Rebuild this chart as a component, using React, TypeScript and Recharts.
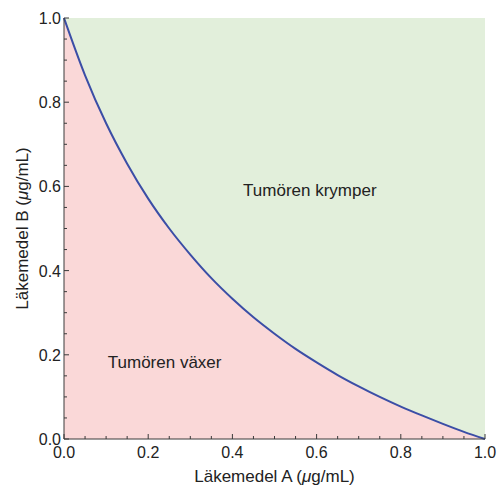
import {
  CartesianGrid,
  ComposedChart,
  Area,
  Line,
  ReferenceDot,
  XAxis,
  YAxis,
} from "recharts";

// drug A concentration (µg/mL) and the isobole value of drug B
const drugA = [0, 0.05, 0.1, 0.15, 0.2, 0.25, 0.3, 0.35, 0.4, 0.45, 0.5, 0.55, 0.6, 0.65, 0.7, 0.75, 0.8, 0.85, 0.9, 0.95, 1];
const drugB = [1, 0.864, 0.75, 0.654, 0.571, 0.5, 0.438, 0.382, 0.333, 0.289, 0.25, 0.214, 0.182, 0.152, 0.125, 0.1, 0.077, 0.056, 0.036, 0.017, 0];
const tickValues = [0, 0.05, 0.1, 0.15, 0.2, 0.25, 0.3, 0.35, 0.4, 0.45, 0.5, 0.55, 0.6, 0.65, 0.7, 0.75, 0.8, 0.85, 0.9, 0.95, 1];
const majorTicks = [0, 0.2, 0.4, 0.6, 0.8, 1];

const data = drugA.map((a, i) => ({ a, b: drugB[i] }));

const FONT = "'Liberation Sans', Arial, sans-serif";
const AXIS = "#3a3a3a";

const isMajor = (v: number) => majorTicks.some((m) => Math.abs(m - v) < 1e-6);

function XTick({ x, y, payload }: any) {
  const major = isMajor(payload.value);
  return (
    <g>
      <line x1={x} x2={x} y1={y} y2={y - (major ? 5 : 3)} stroke={AXIS} strokeWidth={1} />
      {major && (
        <text x={x} y={y + 19} textAnchor="middle" fontSize={16} fontFamily={FONT} fill="#222">
          {payload.value.toFixed(1)}
        </text>
      )}
    </g>
  );
}

function YTick({ x, y, payload }: any) {
  const major = isMajor(payload.value);
  return (
    <g>
      <line x1={x} x2={x + (major ? 5 : 3)} y1={y} y2={y} stroke={AXIS} strokeWidth={1} />
      {major && (
        <text x={x - 3} y={y + 6} textAnchor="end" fontSize={16} fontFamily={FONT} fill="#222">
          {payload.value.toFixed(1)}
        </text>
      )}
    </g>
  );
}

function XTitle({ viewBox }: any) {
  const cx = viewBox.x + viewBox.width / 2;
  return (
    <text x={cx} y={482} textAnchor="middle" fontSize={17} fontFamily={FONT} fill="#222">
      Läkemedel A (<tspan fontStyle="italic">μ</tspan>g/mL)
    </text>
  );
}

function YTitle({ viewBox }: any) {
  const cy = viewBox.y + viewBox.height / 2;
  return (
    <text
      x={28}
      y={cy}
      transform={`rotate(-90 28 ${cy})`}
      textAnchor="middle"
      fontSize={17}
      fontFamily={FONT}
      fill="#222"
    >
      Läkemedel B (<tspan fontStyle="italic">μ</tspan>g/mL)
    </text>
  );
}

export default function App() {
  return (
    <div style={{ position: "absolute", left: 0, top: 0, width: 498, height: 490, background: "#fff" }}>
      <ComposedChart width={498} height={490} data={data} margin={{ top: 18, right: 13, bottom: 0, left: 0 }}>
        <CartesianGrid horizontal={false} vertical={false} fill="#e2efdb" />
        <XAxis
          dataKey="a"
          type="number"
          domain={[0, 1]}
          ticks={tickValues}
          interval={0}
          height={51}
          tickSize={0}
          tickMargin={0}
          tickLine={false}
          tick={<XTick />}
          stroke={AXIS}
          label={{ content: <XTitle /> }}
        />
        <YAxis
          type="number"
          domain={[0, 1]}
          ticks={tickValues}
          interval={0}
          width={64}
          tickSize={0}
          tickMargin={0}
          tickLine={false}
          tick={<YTick />}
          stroke={AXIS}
          label={{ content: <YTitle /> }}
        />
        <Area dataKey="b" type="monotone" fill="#fad8d8" fillOpacity={1} stroke="none" isAnimationActive={false} />
        <Line dataKey="b" type="monotone" stroke="#3b4ea6" strokeWidth={2} dot={false} isAnimationActive={false} />
        <ReferenceDot
          x={0.584}
          y={0.591}
          r={0}
          fill="none"
          stroke="none"
          label={{ value: "Tumören krymper", position: "center", fontSize: 17, fontFamily: FONT, fill: "#222" }}
        />
        <ReferenceDot
          x={0.239}
          y={0.184}
          r={0}
          fill="none"
          stroke="none"
          label={{ value: "Tumören växer", position: "center", fontSize: 17, fontFamily: FONT, fill: "#222" }}
        />
      </ComposedChart>
    </div>
  );
}
